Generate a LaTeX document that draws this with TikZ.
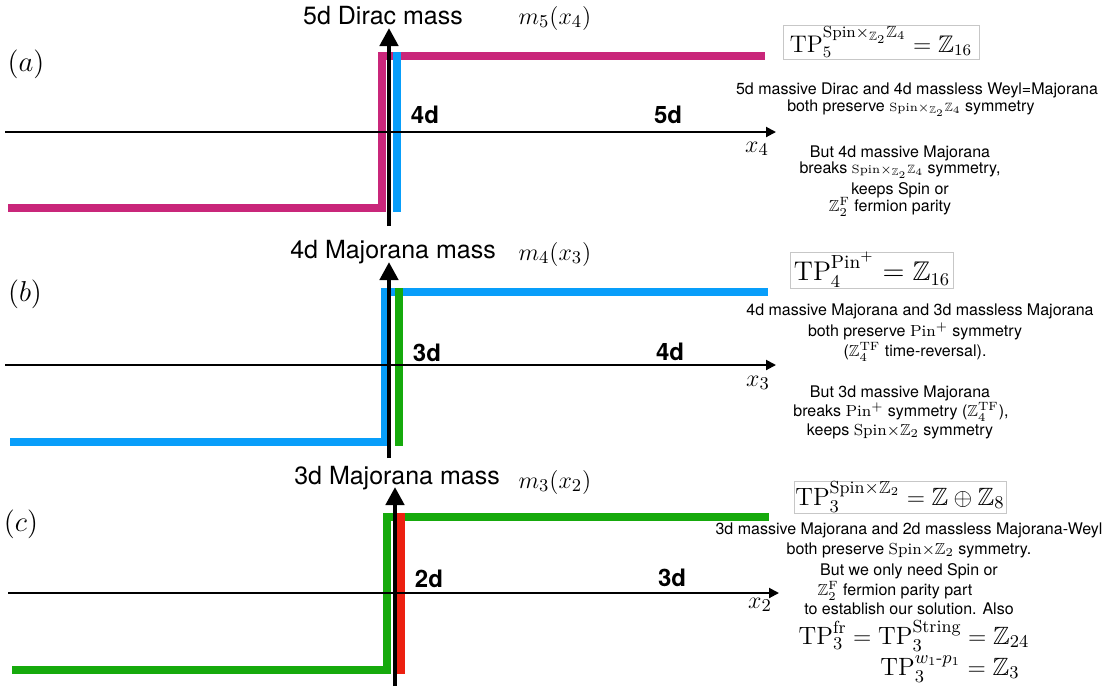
\documentclass[tikz,border=0pt]{standalone}
\usepackage{amsmath,amssymb}
\usepackage{fontspec}
\newfontfamily\hv{TeX Gyre Heros}
\usetikzlibrary{arrows.meta}
\definecolor{cmag}{RGB}{201,38,122}
\definecolor{cblue}{RGB}{8,158,250}
\definecolor{cgreen}{RGB}{22,170,12}
\definecolor{cred}{RGB}{236,32,16}
\tikzset{
  txt/.style={font=\hv\fontsize{8}{9}\selectfont, inner sep=0pt, text height=6pt, text depth=1.8pt},
  big/.style={font=\hv\fontsize{12.5}{14}\selectfont, inner sep=0pt},
  dlab/.style={font=\hv\bfseries\fontsize{12}{14}\selectfont, inner sep=0pt},
  mlab/.style={font=\fontsize{13}{15}\selectfont, inner sep=0pt},
  plab/.style={font=\fontsize{13.5}{15}\selectfont, inner sep=0pt},
  tpbox/.style={draw=black!22, line width=0.5pt, inner sep=0pt},
  tpm/.style={font=\fontsize{12.5}{14}\selectfont, inner sep=0pt, text height=9pt, text depth=3pt},
  massline/.style={line width=4pt, line join=miter},
  vaxis/.style={line width=2.3pt, -{Triangle[length=9pt,width=9pt]}},
  haxis/.style={line width=1pt, -{Triangle[length=5pt,width=5pt]}},
}
\newcommand{\smallsym}{{\fontsize{6}{7}\selectfont$\mathrm{Spin}{\times_{\mathbb{Z}_2}}\mathbb{Z}_4$}}
\begin{document}
\begin{tikzpicture}[x=0.5pt,y=-0.5pt]
\useasboundingbox (0,0) rectangle (1120,687);
% ---------------- panel (a)
\draw[massline, cmag] (8,208) -- (382,208) -- (382,56) -- (765,56);
\draw[massline, cblue] (397,52) -- (397,212);
\coordinate (ha0) at (5,132); \coordinate (ha1) at (776,132);
\coordinate (va0) at (389,226); \coordinate (va1) at (389,28);
\draw[haxis] (ha0) -- (ha1);
\draw[vaxis] (va0) -- (va1);
\node[plab] (la) at (26,64) {$(a)$};
\node[big] (ta) at (383,16) {5d Dirac mass};
\node[mlab] (ma) at (555,18) {$m_5(x_4)$};
\node[dlab] (d4a) at (425,115) {4d};
\node[dlab] (d5a) at (668,115) {5d};
\node[mlab] (xa) at (757,149) {$x_4$};
\node[tpbox, minimum width=98pt, minimum height=17pt] (ba) at (881,42)
  {\fontsize{12}{14}\selectfont$\mathrm{TP}_5^{\mathrm{Spin}\times_{\mathbb{Z}_2}\mathbb{Z}_4}=\mathbb{Z}_{16}$};
\node[txt] (a1) at (917,90) {5d massive Dirac and 4d massless Weyl=Majorana};
\node[txt] (a2) at (911,107) {both preserve \smallsym{} symmetry};
\node[txt] (a3) at (900,153) {But 4d massive Majorana};
\node[txt] (a4) at (900,169) {breaks \smallsym{} symmetry,};
\node[txt] (a5) at (900,190) {keeps Spin or};
\node[txt] (a6) at (890,207) {$\mathbb{Z}_2^{\mathrm{F}}$ fermion parity};
% ---------------- panel (b)
\draw[massline, cblue] (10,442) -- (385,442) -- (385,292) -- (768,292);
\draw[massline, cgreen] (399,288) -- (399,446);
\coordinate (hb0) at (5,365); \coordinate (hb1) at (776,365);
\coordinate (vb0) at (389,458); \coordinate (vb1) at (389,262);
\draw[haxis] (hb0) -- (hb1);
\draw[vaxis] (vb0) -- (vb1);
\node[plab] (lb) at (25,294) {$(b)$};
\node[big] (tb) at (393,252) {4d Majorana mass};
\node[mlab] (mb) at (555,254) {$m_4(x_3)$};
\node[dlab] (d3b) at (427,353) {3d};
\node[dlab] (d4b) at (670,352) {4d};
\node[mlab] (xb) at (758,383) {$x_3$};
\node[tpbox, minimum width=81.5pt, minimum height=18pt] (bb) at (872,270)
  {\fontsize{13.5}{15}\selectfont$\mathrm{TP}_4^{\mathrm{Pin}^+}=\mathbb{Z}_{16}$};
\node[txt] (b1) at (920,311) {4d massive Majorana and 3d massless Majorana};
\node[txt] (b2) at (915,332) {both preserve $\mathrm{Pin}^+$ symmetry};
\node[txt] (b3) at (915,352) {($\mathbb{Z}_4^{\mathrm{TF}}$ time-reversal).};
\node[txt] (b4) at (900,393) {But 3d massive Majorana};
\node[txt] (b5) at (901,412) {breaks $\mathrm{Pin}^+$ symmetry ($\mathbb{Z}_4^{\mathrm{TF}}$),};
\node[txt] (b6) at (900,431) {keeps $\mathrm{Spin}{\times}\mathbb{Z}_2$ symmetry};
% ---------------- panel (c)
\draw[massline, cgreen] (12,670) -- (387,670) -- (387,517) -- (769,517);
\draw[massline, cred] (401,513) -- (401,674);
\coordinate (hc0) at (8,593); \coordinate (hc1) at (779,593);
\coordinate (vc0) at (395,686); \coordinate (vc1) at (395,487);
\draw[haxis] (hc0) -- (hc1);
\draw[vaxis] (vc0) -- (vc1);
\node[plab] (lc) at (21,524) {$(c)$};
\node[big] (tc) at (397,478) {3d Majorana mass};
\node[mlab] (mc) at (555,482) {$m_3(x_2)$};
\node[dlab] (d2c) at (429,579) {2d};
\node[dlab] (d3c) at (672,578) {3d};
\node[mlab] (xc) at (760,605) {$x_2$};
\node[tpbox, minimum width=106pt, minimum height=16pt] (bc) at (900,497)
  {\fontsize{12.5}{14}\selectfont$\mathrm{TP}_3^{\mathrm{Spin}\times\mathbb{Z}_2}=\mathbb{Z}\oplus\mathbb{Z}_8$};
\node[txt] (c1) at (909,530) {3d massive Majorana and 2d massless Majorana-Weyl};
\node[txt] (c2) at (909,550) {both preserve $\mathrm{Spin}{\times}\mathbb{Z}_2$ symmetry.};
\node[txt] (c3) at (909,571) {But we only need Spin or};
\node[txt] (c4) at (895,591) {$\mathbb{Z}_2^{\mathrm{F}}$ fermion parity part};
\node[txt] (c5) at (909,610) {to establish our solution. Also};
\node[tpm] (c6) at (914,638) {$\mathrm{TP}_3^{\mathrm{fr}}=\mathrm{TP}_3^{\mathrm{String}}=\mathbb{Z}_{24}$};
\node[tpm] (c7) at (950,669) {$\mathrm{TP}_3^{w_1\text{-}p_1}=\mathbb{Z}_3$};
\end{tikzpicture}
\end{document}
